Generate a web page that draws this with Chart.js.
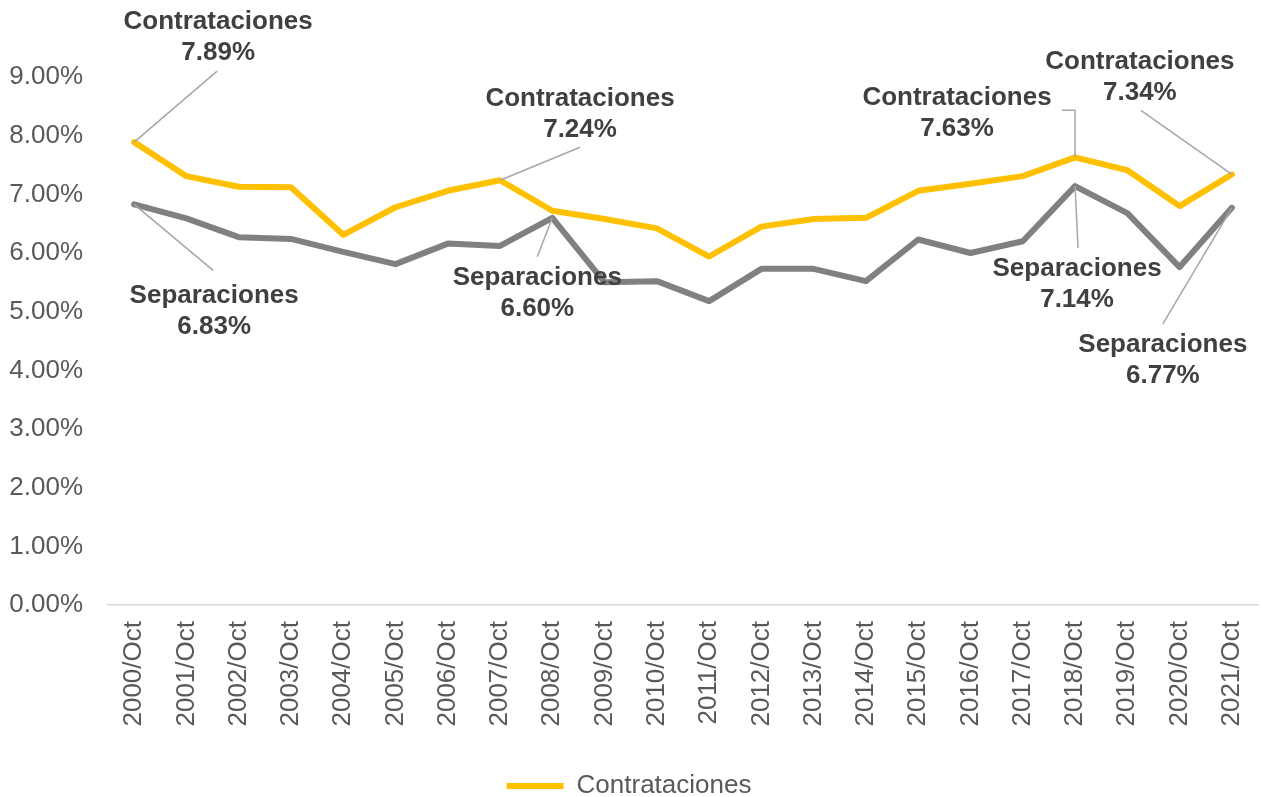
<!DOCTYPE html>
<html lang="es">
<head>
    <meta charset="UTF-8">
    <title>Contrataciones y Separaciones</title>
    <script src="https://cdn.jsdelivr.net/npm/chart.js"></script>
    <style>
        html, body { margin: 0; padding: 0; background: #ffffff; }
        .chart-box { width: 1262px; height: 797px; position: relative; }
    </style>
</head>
<body>
    <div class="chart-box">
        <canvas id="myChart"></canvas>
    </div>
    <script>
        const periodos = ['2000/Oct', '2001/Oct', '2002/Oct', '2003/Oct', '2004/Oct', '2005/Oct', '2006/Oct', '2007/Oct',
            '2008/Oct', '2009/Oct', '2010/Oct', '2011/Oct', '2012/Oct', '2013/Oct', '2014/Oct', '2015/Oct',
            '2016/Oct', '2017/Oct', '2018/Oct', '2019/Oct', '2020/Oct', '2021/Oct'];
        const contrataciones = [7.89, 7.31, 7.13, 7.12, 6.31, 6.78, 7.06, 7.24, 6.72, 6.58, 6.42,
            5.94, 6.45, 6.58, 6.60, 7.06, 7.18, 7.31, 7.63, 7.41, 6.80, 7.34];
        const separaciones = [6.83, 6.59, 6.27, 6.24, 6.02, 5.81, 6.16, 6.12, 6.60, 5.50, 5.52,
            5.18, 5.73, 5.73, 5.52, 6.23, 6.00, 6.20, 7.14, 6.68, 5.76, 6.77];
        const yTicks = [0, 1, 2, 3, 4, 5, 6, 7, 8, 9];

        // etiquetas con linea guia: serie, indice, posicion del texto y quiebres de la linea (px relativos al punto)
        const etiquetas = [
            { serie: 0, i: 0, tx: 84, ty: -120, guia: [[83, -71]] },
            { serie: 1, i: 0, tx: 80, ty: 92, guia: [[79, 66]] },
            { serie: 0, i: 7, tx: 80, ty: -81, guia: [[80, -33]] },
            { serie: 1, i: 8, tx: -15, ty: 60, guia: [[-15, 39]] },
            { serie: 0, i: 18, tx: -118, ty: -60, guia: [[0, -47], [-13, -47]] },
            { serie: 1, i: 18, tx: 2, ty: 83, guia: [[3, 62]] },
            { serie: 0, i: 21, tx: -92, ty: -113, guia: [[-91, -64]] },
            { serie: 1, i: 21, tx: -69, ty: 137, guia: [[-69, 116]] }
        ];

        const etiquetasPlugin = {
            id: 'etiquetas',
            afterDatasetsDraw(chart) {
                const ctx = chart.ctx;
                const xs = chart.scales.x, ys = chart.scales.y;
                ctx.save();
                etiquetas.forEach(e => {
                    const ds = chart.data.datasets[e.serie];
                    const v = ds.data[e.i];
                    const px = xs.getPixelForValue(e.i);
                    const py = ys.getPixelForValue(v);
                    ctx.strokeStyle = '#a6a6a6';
                    ctx.lineWidth = 1.5;
                    ctx.beginPath();
                    ctx.moveTo(px, py);
                    e.guia.forEach(g => ctx.lineTo(px + g[0], py + g[1]));
                    ctx.stroke();
                    ctx.fillStyle = '#404040';
                    ctx.font = 'bold 26px "Liberation Sans", Arial, sans-serif';
                    ctx.textAlign = 'center';
                    ctx.textBaseline = 'middle';
                    ctx.fillText(ds.label, px + e.tx, py + e.ty);
                    ctx.fillText(v.toFixed(2) + '%', px + e.tx, py + e.ty + 31);
                });
                ctx.restore();
            }
        };

        Chart.defaults.font.family = '"Liberation Sans", Arial, sans-serif';
        Chart.defaults.color = '#595959';

        new Chart(document.getElementById('myChart'), {
            type: 'line',
            data: {
                labels: periodos,
                datasets: [{
                    label: 'Contrataciones',
                    data: contrataciones,
                    borderColor: '#FFC000',
                    backgroundColor: '#FFC000',
                    borderWidth: 6,
                    borderCapStyle: 'round',
                    borderJoinStyle: 'round',
                    pointRadius: 0,
                    tension: 0,
                    order: 1
                }, {
                    label: 'Separaciones',
                    data: separaciones,
                    borderColor: '#808080',
                    backgroundColor: '#808080',
                    borderWidth: 6,
                    borderCapStyle: 'round',
                    borderJoinStyle: 'round',
                    pointRadius: 0,
                    tension: 0,
                    order: 0
                }]
            },
            options: {
                responsive: true,
                maintainAspectRatio: false,
                animation: false,
                layout: { padding: { top: 77, right: 4, left: 0, bottom: -12 } },
                plugins: {
                    tooltip: { enabled: false },
                    legend: {
                        position: 'bottom',
                        labels: {
                            font: { size: 26 },
                            color: '#595959',
                            boxWidth: 57,
                            boxHeight: 6,
                            padding: 0,
                            generateLabels: chart => Chart.defaults.plugins.legend.labels.generateLabels(chart)
                                .filter(it => it.datasetIndex === 0)
                                .map(it => Object.assign(it, { lineWidth: 0, fillStyle: '#FFC000' }))
                        }
                    }
                },
                scales: {
                    x: {
                        offset: true,
                        grid: { display: false, drawTicks: false },
                        border: { display: true, color: '#d9d9d9', width: 1.5 },
                        ticks: {
                            font: { size: 26 },
                            color: '#595959',
                            minRotation: 90,
                            maxRotation: 90,
                            autoSkip: false,
                            padding: 16
                        },
                        afterFit: s => { s.height = 168; s.paddingLeft = 0; s.paddingRight = 0; }
                    },
                    y: {
                        min: 0,
                        max: 9,
                        afterBuildTicks: s => { s.ticks = yTicks.map(v => ({ value: v })); },
                        grid: { display: false, drawTicks: false },
                        border: { display: false },
                        ticks: {
                            font: { size: 26 },
                            color: '#595959',
                            padding: 25,
                            callback: v => v.toFixed(2) + '%'
                        },
                        afterFit: s => { s.width = 108; }
                    }
                }
            },
            plugins: [etiquetasPlugin]
        });
    </script>
</body>
</html>
